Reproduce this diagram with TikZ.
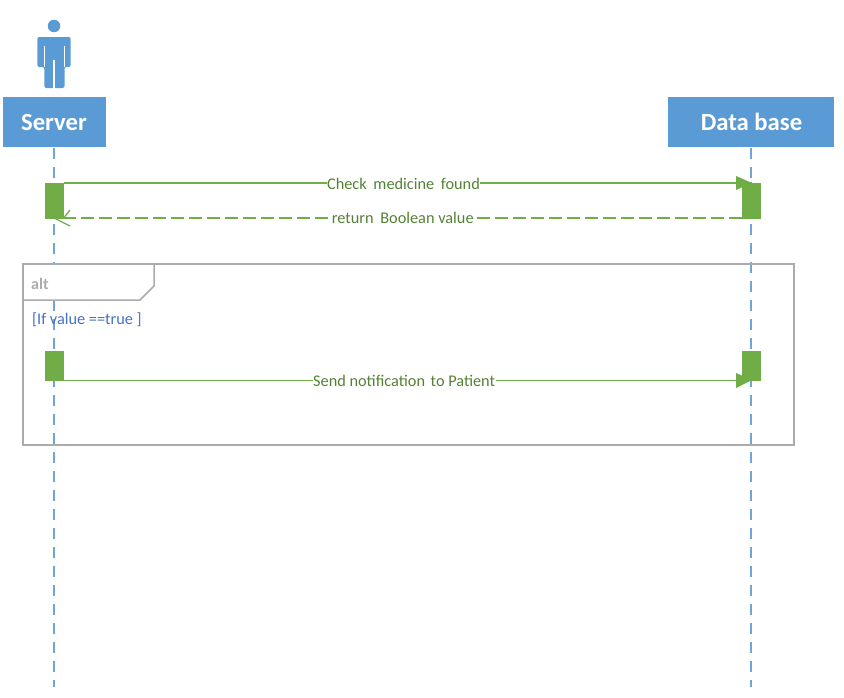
\documentclass[tikz,border=0pt]{standalone}
\usepackage{fontspec}
\setmainfont{Carlito}
\definecolor{hdrblue}{HTML}{5B9BD5}
\definecolor{lineblue}{HTML}{6FA5D8}
\definecolor{actgreen}{HTML}{70AD47}
\definecolor{txtgreen}{HTML}{548235}
\definecolor{framegrey}{HTML}{ABABAB}
\definecolor{condblue}{HTML}{4472C4}
\tikzset{
  header/.style={fill=hdrblue,draw=white,line width=0.5pt,inner sep=0pt,text=white,font=\fontsize{24.7}{28}\selectfont\bfseries,minimum height=51pt},
  lifeline/.style={lineblue,line width=1.2pt,dash pattern=on 11pt off 8pt},
  activation/.style={fill=actgreen,draw=none,inner sep=0pt,minimum width=19pt},
  msg/.style={actgreen,line width=1.7pt},
  msglabel/.style={fill=white,text=txtgreen,inner xsep=0.5pt,inner ysep=1pt,font=\fontsize{16.3}{18}\selectfont},
  framebox/.style={draw=framegrey,line width=1.5pt},
}
\begin{document}
\begin{tikzpicture}[x=1pt,y=-1pt]
\useasboundingbox (0,0) rectangle (844,697);
% headers
\node[header,minimum width=104pt] (server) at (54,122) {Server};
\node[header,minimum width=167pt] (db) at (751,122) {\hspace*{1pt}Data base};
% lifelines
\coordinate (serverend) at (54,687);
\coordinate (dbend) at (751,687);
\draw[lifeline] (server.south) -- (serverend);
\draw[lifeline] (db.south) -- (dbend);
% actor
\node[circle,fill=hdrblue,inner sep=0pt,minimum size=12.5pt] (head) at (54,26) {};
\fill[hdrblue,rounded corners=2pt] (37.3,67) -- (37.3,37) -- (70.7,37) -- (70.7,67) -- (64.5,67) -- (64.5,88) -- (44.3,88) -- (44.3,67) -- cycle;
\draw[white,line width=0.7pt] (44.2,46) -- (44.2,67) (64.2,46) -- (64.2,67);
\draw[white,line width=1.1pt] (54,60) -- (54,88.5);
% frame
\node[framebox,outer sep=0pt,fill=none,minimum width=771pt,minimum height=181pt,inner sep=0pt] (altframe) at (408.5,354.5) {};
\filldraw[framebox,fill=white] (altframe.north west) -- (154,264) -- (154,286) -- (140,300) -- (23,300) -- cycle;
\node[anchor=west,text=framegrey,inner sep=0pt,font=\fontsize{16}{18}\selectfont\bfseries] (altlabel) at (31,284) {alt};
\node[anchor=west,text=condblue,inner sep=0pt,font=\fontsize{16.3}{18}\selectfont] (cond) at (32,320) {[If value ==true ]};
% activations
\node[activation,minimum height=36pt] (sa1) at (54,200.5) {};
\node[activation,minimum height=36pt] (da1) at (751.5,200.5) {};
\node[activation,minimum height=30pt] (sa2) at (54,366) {};
\node[activation,minimum height=30pt] (da2) at (751.5,366) {};
% messages
\coordinate (m1y) at (54,183);
\draw[msg] (sa1.east |- m1y) -- node[msglabel,pos=0.494,yshift=-0.5pt] (m1) {Check\hspace{3pt} medicine\hspace{3pt} found} (da1.center |- m1y);
\fill[actgreen] (736,176) -- (752,183) -- (736,190) -- cycle;
\coordinate (m2end) at (54,218);
\draw[msg,dash pattern=on 13pt off 5pt] (da1.west |- m2end) -- node[msglabel,pos=0.5] (m2) {return\hspace{3pt} Boolean value} (sa1.east |- m2end);
\draw[msg,line width=1.3pt] (70,210) -- (m2end -| sa1.east) (m2end) -- (70,226);
\coordinate (m3y) at (54,380.5);
\draw[msg] (sa2.east |- m3y) -- node[msglabel,pos=0.495] (m3) {Send notification\hspace{2pt} to Patient} (da2.center |- m3y);
\fill[actgreen] (736,373) -- (752,380) -- (736,388) -- cycle;
\end{tikzpicture}
\end{document}
